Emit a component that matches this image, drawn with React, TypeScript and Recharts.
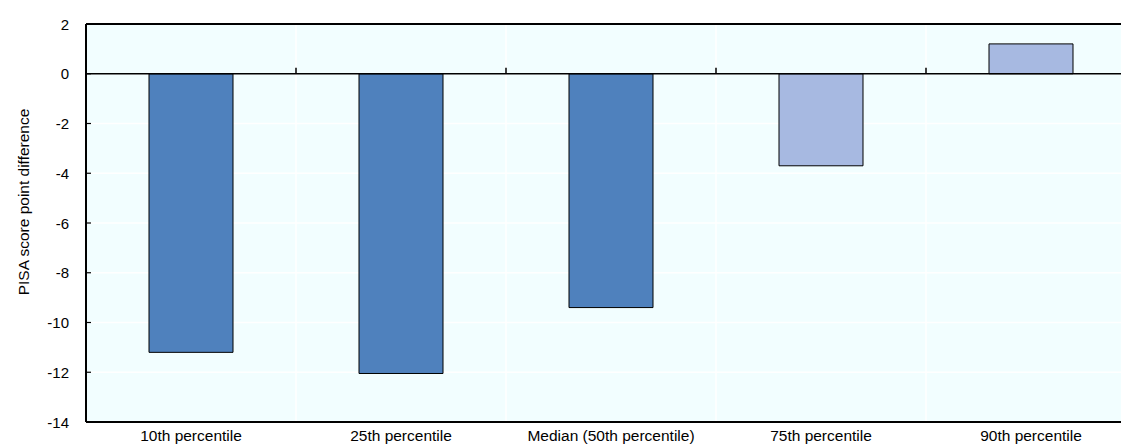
import React from "react";
import { BarChart, Bar, XAxis, YAxis, CartesianGrid, ReferenceLine, Cell } from "recharts";

const categories = [
  "10th percentile",
  "25th percentile",
  "Median (50th percentile)",
  "75th percentile",
  "90th percentile",
];
const values = [-11.2, -12.05, -9.4, -3.7, 1.2];
const significant = [true, true, true, false, false];
const yTicks = [2, 0, -2, -4, -6, -8, -10, -12, -14];

const data = categories.map((c, i) => ({ name: c, value: values[i], sig: significant[i] }));

const DARK = "#4F81BD";
const LIGHT = "#A7B9E1";
const FONT = "'Liberation Sans', Arial, sans-serif";

const YTick = (props: any) => {
  const { x, y, payload } = props;
  return (
    <g>
      <text x={x} y={y} textAnchor="end" dominantBaseline="central" fontSize={15} fontFamily={FONT} fill="#000">
        {payload.value}
      </text>
      <line x1={x + 17} x2={x + 22} y1={y} y2={y} stroke="#000" strokeWidth={1.2} />
    </g>
  );
};

const ZeroLine = (props: any) => {
  const { x1, x2, y1 } = props;
  const n = categories.length;
  const w = (x2 - x1) / n;
  const ticks = [];
  for (let i = 1; i < n; i++) {
    const tx = x1 + i * w;
    ticks.push(<line key={i} x1={tx} x2={tx} y1={y1} y2={y1 - 6} stroke="#000" strokeWidth={1.5} />);
  }
  return (
    <g>
      <line x1={x1} x2={x2} y1={y1} y2={y1} stroke="#000" strokeWidth={1.5} />
      {ticks}
    </g>
  );
};

const YLabel = (props: any) => {
  const { viewBox } = props;
  const cx = 15;
  const cy = viewBox.y + viewBox.height / 2 - 21;
  return (
    <text
      x={cx}
      y={cy}
      transform={`rotate(-90, ${cx}, ${cy})`}
      textAnchor="middle"
      dominantBaseline="central"
      fontSize={15.5}
      fontFamily={FONT}
      fill="#000"
    >
      PISA score point difference
    </text>
  );
};

export default function App() {
  return (
    <div style={{ position: "absolute", top: 8, left: 8, width: 1113, height: 437, overflow: "hidden" }}>
      <BarChart
        width={1140}
        height={437}
        data={data}
        margin={{ top: 16, right: 12, bottom: 0, left: 0 }}
        barCategoryGap="30%"
      >
        <CartesianGrid
          fill="#F2FEFF"
          stroke="#FFFFFF"
          strokeWidth={1.5}
          verticalCoordinatesGenerator={({ offset }: any) =>
            categories.slice(1).map((_, i) => offset.left + ((i + 1) * offset.width) / categories.length)
          }
        />
        <XAxis
          dataKey="name"
          height={23}
          tickLine={false}
          tickSize={0}
          tickMargin={8}
          axisLine={{ stroke: "#000", strokeWidth: 2 }}
          tick={{ fontSize: 15.5, fontFamily: FONT, fill: "#000" }}
          interval={0}
        />
        <YAxis
          domain={[-14, 2]}
          ticks={yTicks}
          width={78}
          tickLine={false}
          tickSize={0}
          tickMargin={17}
          axisLine={{ stroke: "#000", strokeWidth: 2 }}
          tick={<YTick />}
          interval={0}
          label={<YLabel />}
        />
        <ReferenceLine y={2} stroke="#000" strokeWidth={2} />
        <Bar dataKey="value" isAnimationActive={false} stroke="#000" strokeWidth={1}>
          {data.map((d, i) => (
            <Cell key={i} fill={d.sig ? DARK : LIGHT} />
          ))}
        </Bar>
        <ReferenceLine y={0} shape={<ZeroLine />} />
      </BarChart>
    </div>
  );
}
